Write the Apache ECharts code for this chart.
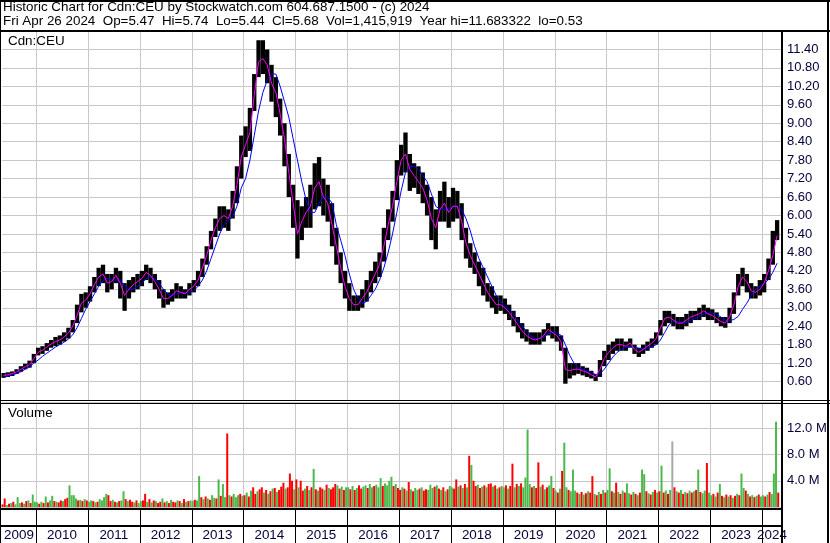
<!DOCTYPE html>
<html><head><meta charset="utf-8">
<script src="https://cdn.jsdelivr.net/npm/echarts@6/dist/echarts.min.js"></script>
<style>html,body{margin:0;padding:0;background:#fff}#c{width:830px;height:543px}</style>
</head><body><div id="c"></div>
<script>
// ---- data (monthly, May 2009 .. Apr 2024) ----
const yearLabels = ['2009','2010','2011','2012','2013','2014','2015','2016','2017','2018','2019','2020','2021','2022','2023','2024'];
const priceLow = [
 0.72,0.75,0.78,0.85,0.92,1.00,1.05,1.20,
 1.45,1.50,1.60,1.70,1.75,1.80,1.90,2.00,2.20,2.50,2.85,3.00,
 3.20,3.50,3.70,3.80,3.50,3.60,3.80,3.30,2.90,3.30,3.50,3.60,
 3.70,3.90,3.80,3.60,3.30,3.00,3.10,3.20,3.30,3.30,3.30,3.40,
 3.50,3.70,4.00,4.40,4.90,5.30,5.50,5.60,5.50,5.90,6.40,7.20,
 7.90,8.10,9.40,10.50,10.60,10.30,9.70,9.20,8.60,7.60,6.60,5.60,
 4.60,5.20,5.60,5.60,6.20,6.30,6.00,5.80,5.00,4.40,3.80,3.30,
 2.90,2.90,2.90,3.00,3.20,3.50,3.80,4.00,4.50,5.20,5.80,6.50,
 7.30,7.40,6.80,6.90,6.70,6.40,6.00,5.20,4.90,5.80,5.80,5.60,
 5.80,5.90,5.20,4.60,4.30,4.10,3.70,3.40,3.20,3.00,2.80,2.90,
 2.80,2.60,2.40,2.20,2.00,1.90,1.80,1.80,1.80,1.90,2.10,2.00,
 1.90,1.60,0.53,0.70,0.80,0.85,0.80,0.75,0.70,0.62,0.75,1.10,
 1.30,1.50,1.60,1.60,1.60,1.70,1.50,1.40,1.50,1.60,1.70,1.80,
 2.10,2.40,2.50,2.40,2.30,2.30,2.40,2.50,2.60,2.60,2.70,2.60,
 2.60,2.50,2.40,2.35,2.50,2.80,3.40,3.70,3.50,3.30,3.30,3.40,
 3.50,3.90,4.40,5.20];
const priceHigh = [
 0.88,0.90,0.93,1.00,1.10,1.18,1.28,1.50,
 1.70,1.75,1.85,1.95,2.05,2.10,2.20,2.35,2.60,3.10,3.45,3.50,
 3.70,4.00,4.30,4.40,4.10,4.10,4.30,4.20,3.80,3.90,4.00,4.10,
 4.20,4.40,4.30,4.10,3.90,3.60,3.50,3.60,3.80,3.70,3.60,3.80,
 3.90,4.20,4.60,5.00,5.50,5.90,6.30,6.30,6.20,6.80,7.60,8.60,
 8.90,9.50,10.60,11.70,11.70,11.40,10.90,10.50,9.80,9.00,8.00,7.00,
 6.50,6.30,6.60,7.00,7.70,7.90,7.20,7.00,6.40,5.60,4.80,4.20,
 3.80,3.40,3.40,3.60,3.90,4.20,4.50,4.80,5.60,6.20,6.80,7.80,
 8.30,8.70,8.00,7.70,7.60,7.40,7.00,6.60,6.20,6.80,7.10,6.60,
 6.90,6.80,6.40,5.60,5.10,4.80,4.50,4.30,3.80,3.70,3.40,3.40,
 3.30,3.10,2.90,2.70,2.50,2.30,2.20,2.20,2.20,2.30,2.50,2.40,
 2.40,2.10,1.70,1.20,1.20,1.20,1.10,1.05,0.95,0.85,1.30,1.60,
 1.80,1.90,2.00,2.00,1.90,2.00,1.80,1.70,1.80,1.90,2.00,2.20,
 2.60,2.90,2.90,2.80,2.70,2.70,2.80,2.90,2.90,3.00,3.10,3.00,
 2.95,2.85,2.70,2.70,3.00,3.50,4.10,4.30,4.10,3.80,3.70,3.90,
 4.10,4.60,5.50,5.85];
const maFast = [
 0.80,0.82,0.86,0.92,1.00,1.08,1.15,1.35,
 1.55,1.62,1.72,1.82,1.90,1.95,2.05,2.18,2.40,2.75,3.15,3.25,
 3.45,3.75,4.00,4.10,3.80,3.85,4.05,3.80,3.40,3.60,3.75,3.85,
 3.95,4.15,4.05,3.85,3.60,3.30,3.30,3.40,3.55,3.50,3.45,3.60,
 3.70,3.90,4.30,4.70,5.20,5.60,5.90,6.00,5.90,6.30,7.00,7.90,
 8.30,8.70,9.90,11.00,11.10,10.90,10.30,10.00,9.30,8.50,7.40,6.40,
 5.40,5.80,6.10,6.30,6.90,7.10,6.60,6.40,5.70,5.00,4.30,3.70,
 3.30,3.10,3.10,3.30,3.50,3.80,4.10,4.40,5.00,5.70,6.30,7.10,
 7.80,8.00,7.50,7.30,7.10,6.90,6.50,5.90,5.60,6.20,6.40,6.10,
 6.30,6.30,5.80,5.10,4.70,4.40,4.10,3.80,3.50,3.30,3.10,3.10,
 3.00,2.85,2.65,2.45,2.25,2.10,2.00,1.95,2.00,2.10,2.30,2.20,
 2.10,1.90,1.00,0.95,1.00,1.00,0.95,0.90,0.82,0.75,1.00,1.35,
 1.55,1.70,1.80,1.80,1.75,1.85,1.65,1.55,1.65,1.75,1.85,2.00,
 2.35,2.65,2.70,2.60,2.50,2.50,2.60,2.70,2.75,2.80,2.90,2.80,
 2.75,2.65,2.55,2.50,2.70,3.10,3.70,4.00,3.85,3.55,3.50,3.60,
 3.80,4.20,4.70,5.35];
const maSlow = [
 0.75,0.78,0.82,0.86,0.92,1.00,1.08,1.20,
 1.30,1.42,1.52,1.62,1.72,1.80,1.88,1.98,2.12,2.35,2.65,2.95,
 3.20,3.45,3.70,3.90,3.95,3.90,3.90,3.90,3.70,3.60,3.60,3.70,
 3.80,3.95,4.00,3.95,3.80,3.60,3.45,3.40,3.45,3.50,3.50,3.50,
 3.55,3.70,3.90,4.20,4.60,5.00,5.40,5.70,5.85,5.95,6.30,6.90,
 7.20,7.80,8.60,9.40,10.00,10.40,10.60,10.60,10.20,9.70,9.20,8.50,
 7.80,7.10,6.50,6.10,6.10,6.40,6.60,6.60,6.40,5.70,5.20,4.70,
 4.10,3.60,3.30,3.15,3.20,3.40,3.60,3.90,4.30,4.80,5.40,6.10,
 6.80,7.40,7.60,7.60,7.50,7.30,7.10,6.70,6.30,6.20,6.20,6.20,
 6.30,6.30,6.20,5.90,5.50,5.00,4.60,4.30,4.00,3.70,3.40,3.20,
 3.05,2.95,2.80,2.60,2.40,2.25,2.10,2.00,2.00,2.05,2.15,2.20,
 2.20,2.10,1.80,1.45,1.20,1.05,1.00,0.95,0.90,0.82,0.85,1.00,
 1.20,1.40,1.55,1.65,1.72,1.75,1.72,1.68,1.65,1.68,1.72,1.80,
 1.95,2.20,2.45,2.55,2.55,2.50,2.52,2.60,2.65,2.72,2.80,2.82,
 2.82,2.78,2.70,2.60,2.58,2.62,2.72,2.95,3.15,3.40,3.60,3.70,
 3.78,3.92,4.15,4.45];
// ---- volume (millions, half-month steps) ----
const volume = [
 0.4,1.3,0.3,0.5,0.6,0.8,0.4,1.5,0.6,0.7,0.5,0.9,1.0,0.6,1.9,0.8,
 0.7,0.5,0.8,0.6,1.6,0.7,1.0,1.7,0.9,0.8,0.7,1.0,0.9,1.2,1.4,3.3,1.8,1.8,1.3,1.0,1.1,0.9,1.2,1.0,
 0.8,1.0,0.9,0.7,0.8,1.2,1.0,1.5,2.0,1.8,0.9,1.1,0.8,0.7,0.9,1.0,2.4,1.2,0.9,1.1,0.8,0.7,1.0,0.6,
 0.9,1.0,2.0,0.8,1.2,0.7,1.0,0.9,0.6,0.8,1.3,0.7,0.9,0.6,1.1,0.8,0.7,1.0,0.9,0.6,1.2,0.8,0.9,1.0,
 0.9,1.1,1.0,4.7,1.5,1.2,1.6,1.3,1.1,1.8,1.4,1.3,4.2,1.7,3.5,1.5,11.2,1.8,1.6,2.0,1.5,1.8,2.0,1.7,
 1.8,2.2,1.6,2.5,3.0,2.0,2.4,2.7,3.0,2.2,2.6,2.0,2.4,2.8,2.9,2.3,2.6,3.1,3.7,2.8,3.0,5.1,4.0,2.7,
 4.2,3.0,4.0,2.5,2.8,3.2,2.6,3.0,5.8,2.7,2.5,3.0,2.8,2.6,3.4,2.9,2.7,3.0,3.5,3.3,2.8,3.1,2.6,3.0,
 3.0,2.7,3.2,2.6,2.9,3.3,2.8,3.1,3.3,2.9,3.5,3.0,3.2,3.4,3.0,4.4,3.2,3.6,3.3,4.0,4.6,3.2,3.5,2.9,
 2.6,3.0,2.8,2.5,3.8,2.7,2.4,2.9,2.6,2.8,3.0,2.5,2.7,2.6,3.4,2.9,3.1,3.3,2.8,2.6,3.0,2.4,2.7,3.2,
 3.0,2.8,4.2,3.1,3.3,2.9,3.5,3.0,7.8,6.4,4.0,3.2,3.4,2.9,3.1,3.3,3.0,3.5,3.6,3.1,3.3,2.8,3.0,3.2,
 3.0,3.3,2.8,3.2,6.6,3.0,3.5,3.2,3.6,3.0,4.5,11.8,3.5,3.0,3.2,2.9,6.8,3.1,3.4,2.7,3.0,3.3,4.7,2.9,
 2.5,2.2,2.8,5.5,9.8,3.0,2.6,2.4,5.7,2.5,2.2,2.0,2.3,1.9,2.1,2.4,2.2,4.7,2.0,1.8,2.3,2.0,2.6,2.2,
 2.6,5.9,2.4,2.2,3.7,2.3,2.0,2.5,2.2,3.6,2.1,1.9,2.3,2.0,1.8,2.2,5.7,5.0,2.4,2.1,1.9,2.3,2.6,2.2,
 2.4,6.3,2.2,2.5,2.0,2.6,10.0,3.0,2.4,2.2,2.6,2.0,2.3,2.1,2.5,2.2,2.4,2.6,5.7,2.3,2.1,2.5,6.7,2.2,
 1.8,2.0,1.6,2.2,3.5,1.7,1.5,1.9,1.6,1.8,1.4,1.7,2.0,1.8,5.1,2.9,2.5,2.0,1.6,1.8,1.5,1.7,1.9,1.6,
 1.8,1.6,1.9,2.3,2.0,5.1,13.0,2.2];
const volumeDir = (
 'rrgrgrgggrgrgrgg' +
 'grgrgrggrgrrgrrggggrgrgr' +
 'ggrgrggggrrgrgrggrgrrgrg' +
 'grrgrgrgrrgrgrgrrgrgrgrg' +
 'grggrgrgrggrgrggrgrgggrg' +
 'rgrgrrgrrgrgrgrgrrrgrrrg' +
 'rgrrgrgrgrgrrgrgrrrgrgrg' +
 'grgrgrrggrggrgggrggggrgr' +
 'rgrgrgrggrgrrgggrgrgrgrg' +
 'grrgrgrgrgrrgrgrgrrgrgrg' +
 'grgrrgrgrggggrgrrgrgrggr' +
 'grgrggrgggrgrgrgrrgrgrgr' +
 'ggrgrgrgrggrgrgrggrgrgrg' +
 'rgrgrgnrgrgrgrgrgrgrggrg' +
 'grgrgrgrgrgrgrggrgrgrgrg' +
 'grgrgggr').split('');

// ---- layout / style ----
const FONT = '"Liberation Sans", Arial, sans-serif';
const NAVY = '#00003c';
const GRIDC = '#c8c8c8';
const X_MIN = 0.13, X_MAX = 180.63;           // months since 1 May 2009
const yearStart = y => (y - 2009) * 12 - 4;

const priceData = priceLow.map((lo, i) => [i + 0.5, lo, priceHigh[i]]);
const fastData = maFast.map((v, i) => [i + 0.5, v]);
const slowData = maSlow.map((v, i) => [i + 0.5, v]);
const volData = volume.map((v, j) => ({ value: [j / 2 + 0.25, v * 1e6], dir: volumeDir[j] || 'g' }));
const boundaryData = yearLabels.slice(1).map(y => [yearStart(+y)]);
const stripData = yearLabels.map((y, i) => {
  const b = yearStart(+y), e = yearStart(+y + 1);
  const l = Math.max(b, X_MIN), r = Math.min(e, X_MAX);
  return [(l + r) / 2, b, i];
});

function gridLinesRender(params, api) {
  const cs = params.coordSys;
  const p = api.coord([api.value(0), 0]);
  const x = Math.round(p[0]) + 0.5;
  return { type: 'line', shape: { x1: x, y1: cs.y, x2: x, y2: cs.y + cs.height },
           style: { stroke: GRIDC, lineWidth: 1 } };
}

const chart = echarts.init(document.getElementById('c'));
const xBase = { type: 'value', min: X_MIN, max: X_MAX, show: false, splitLine: { show: false } };
const txt = { fontFamily: FONT, fontSize: 13.4, fontWeight: 'normal', color: '#000' };

chart.setOption({
  animation: false,
  backgroundColor: '#fff',
  title: [
    { text: 'Historic Chart for Cdn:CEU by Stockwatch.com 604.687.1500 - (c) 2024', left: 3, top: 1, padding: 0, textStyle: txt },
    { text: 'Fri Apr 26 2024  Op=5.47  Hi=5.74  Lo=5.44  Cl=5.68  Vol=1,415,919  Year hi=11.683322  lo=0.53', left: 3, top: 15, padding: 0, textStyle: txt },
    { text: 'Cdn:CEU', left: 8, top: 35, padding: 0, textStyle: txt },
    { text: 'Volume', left: 8, top: 407, padding: 0, textStyle: txt }
  ],
  grid: [
    { left: 2, width: 780, top: 31, height: 369 },
    { left: 2, width: 780, top: 402, height: 105 },
    { left: 2, width: 780, top: 510, height: 33 }
  ],
  xAxis: [
    Object.assign({ gridIndex: 0 }, xBase),
    Object.assign({ gridIndex: 1 }, xBase),
    Object.assign({ gridIndex: 2 }, xBase)
  ],
  yAxis: [
    { gridIndex: 0, type: 'value', position: 'right', min: 0, max: 12, interval: 0.6,
      axisLine: { show: false }, axisTick: { show: false },
      splitLine: { lineStyle: { color: GRIDC, width: 1 } },
      axisLabel: { margin: 5, color: NAVY, fontFamily: FONT, fontSize: 13, showMinLabel: false, showMaxLabel: false,
        formatter: v => (v > 0.01 && v < 11.99) ? v.toFixed(2) : '' } },
    { gridIndex: 1, type: 'value', position: 'right', min: 0, max: 16e6, interval: 4e6,
      axisLine: { show: false }, axisTick: { show: false },
      splitLine: { lineStyle: { color: GRIDC, width: 1 } },
      axisLabel: { margin: 5, color: NAVY, fontFamily: FONT, fontSize: 13, showMinLabel: false, showMaxLabel: false,
        formatter: v => (v > 1 && v < 15.9e6) ? (v / 1e6).toFixed(1) + ' M' : '' } },
    { gridIndex: 2, type: 'value', min: 0, max: 1, show: false }
  ],
  series: [
    { type: 'custom', name: 'yearGridP', xAxisIndex: 0, yAxisIndex: 0, silent: true, z: 1,
      data: boundaryData, encode: { x: 0 }, renderItem: gridLinesRender },
    { type: 'custom', name: 'price', xAxisIndex: 0, yAxisIndex: 0, z: 3, silent: true,
      data: priceData, encode: { x: 0, y: [1, 2] },
      renderItem: (params, api) => {
        const x = api.value(0);
        const hi = api.coord([x, api.value(2)]);
        const lo = api.coord([x, api.value(1)]);
        const w = api.size([1, 0])[0];
        return { type: 'rect', shape: { x: hi[0] - w / 2, y: hi[1], width: w, height: Math.max(1, lo[1] - hi[1]) },
                 style: { fill: '#000' } };
      } },
    { type: 'line', name: 'slow', xAxisIndex: 0, yAxisIndex: 0, z: 4, data: slowData, showSymbol: false, silent: true,
      lineStyle: { color: '#0000ff', width: 1 } },
    { type: 'line', name: 'fast', xAxisIndex: 0, yAxisIndex: 0, z: 5, data: fastData, showSymbol: false, silent: true,
      lineStyle: { color: '#ff00ff', width: 1 } },
    { type: 'custom', name: 'yearGridV', xAxisIndex: 1, yAxisIndex: 1, silent: true, z: 1,
      data: boundaryData, encode: { x: 0 }, renderItem: gridLinesRender },
    { type: 'bar', name: 'volume', xAxisIndex: 1, yAxisIndex: 1, z: 3, barWidth: 2, silent: true,
      data: volData,
      itemStyle: { color: p => p.data.dir === 'r' ? '#ff0000' : (p.data.dir === 'n' ? '#a8a8a8' : '#4cb84c') } },
    { type: 'custom', name: 'years', xAxisIndex: 2, yAxisIndex: 2, silent: true, z: 3,
      data: stripData, encode: { x: 0 },
      renderItem: (params, api) => {
        const cs = params.coordSys;
        const c = api.coord([api.value(0), 0]);
        const b = api.coord([api.value(1), 0]);
        const ch = [{ type: 'text', style: { text: yearLabels[api.value(2)], x: c[0], y: cs.y + 25,
                      textAlign: 'center', textVerticalAlign: 'middle', fill: NAVY, font: '13.4px ' + FONT } }];
        if (api.value(1) > X_MIN) {
          const x = Math.round(b[0]) + 0.5;
          ch.push({ type: 'line', shape: { x1: x, y1: cs.y, x2: x, y2: cs.y + cs.height }, style: { stroke: '#000', lineWidth: 1 } });
        }
        return { type: 'group', children: ch };
      } }
  ],
  graphic: [
    { type: 'line', shape: { x1: 0, y1: 1, x2: 830, y2: 1 }, style: { stroke: '#000', lineWidth: 2 }, z: 100 },
    { type: 'line', shape: { x1: 0.5, y1: 0, x2: 0.5, y2: 543 }, style: { stroke: '#000', lineWidth: 1 }, z: 100 },
    { type: 'line', shape: { x1: 828, y1: 0, x2: 828, y2: 543 }, style: { stroke: '#000', lineWidth: 2 }, z: 100 },
    { type: 'line', shape: { x1: 0, y1: 31, x2: 830, y2: 31 }, style: { stroke: '#000', lineWidth: 2 }, z: 100 },
    { type: 'line', shape: { x1: 782, y1: 31, x2: 782, y2: 543 }, style: { stroke: '#000', lineWidth: 2 }, z: 100 },
    { type: 'line', shape: { x1: 0, y1: 400.5, x2: 830, y2: 400.5 }, style: { stroke: '#000', lineWidth: 1 }, z: 100 },
    { type: 'line', shape: { x1: 0, y1: 403.5, x2: 830, y2: 403.5 }, style: { stroke: '#000', lineWidth: 1 }, z: 100 },
    { type: 'line', shape: { x1: 0, y1: 509, x2: 782, y2: 509 }, style: { stroke: '#000', lineWidth: 2 }, z: 100 },
    { type: 'line', shape: { x1: 0, y1: 526, x2: 782, y2: 526 }, style: { stroke: '#000', lineWidth: 2 }, z: 100 }
  ]
});
</script></body></html>
